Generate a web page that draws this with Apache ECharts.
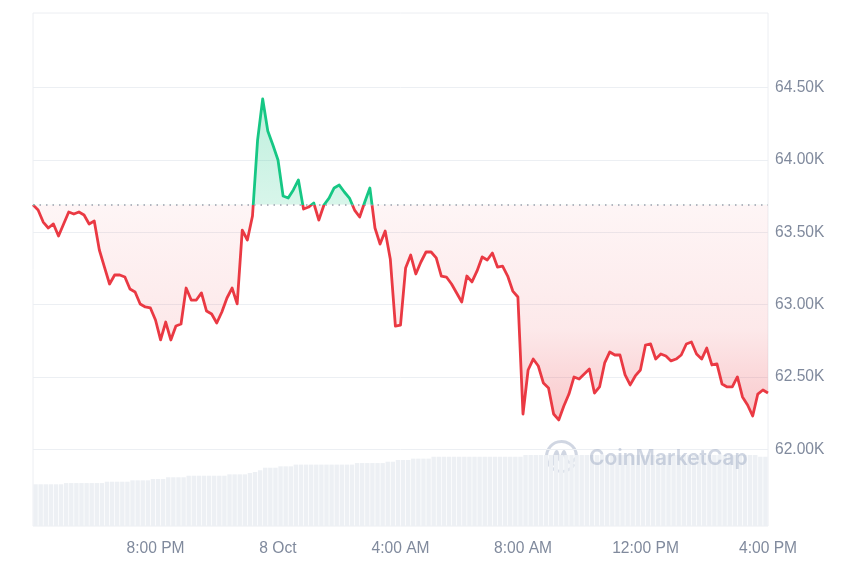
<!DOCTYPE html>
<html><head><meta charset="utf-8">
<script src="https://cdn.jsdelivr.net/npm/echarts@6/dist/echarts.min.js"></script>
<style>html,body{margin:0;padding:0;background:#fff}#c{width:860px;height:573px}</style>
</head><body><div id="c"></div>
<script>
// ---- data (10-minute samples, 7 Oct 4:00 PM -> 8 Oct 4:00 PM) ----
const prices = [
 63690,63654,63571,63530,63558,63475,63558,63641,63627,63641,
 63620,63558,63578,63378,63260,63143,63205,63205,63191,63108,
 63088,63005,62984,62977,62894,62756,62880,62756,62852,62866,
 63115,63032,63032,63081,62956,62935,62873,62949,63046,63115,
 63005,63516,63447,63613,64138,64422,64201,64104,64000,63751,
 63737,63793,63862,63661,63675,63703,63585,63689,63737,63807,
 63827,63779,63737,63654,63606,63710,63807,63530,63419,63509,
 63316,62852,62859,63253,63343,63212,63295,63364,63364,63323,
 63198,63191,63143,63081,63018,63198,63157,63233,63330,63309,
 63357,63260,63267,63198,63094,63053,62244,62548,62624,62576,
 62458,62424,62244,62203,62299,62382,62500,62486,62521,62555,
 62389,62431,62597,62673,62652,62652,62514,62445,62507,62548,
 62721,62728,62624,62659,62645,62611,62624,62652,62728,62742,
 62659,62624,62700,62583,62590,62451,62431,62431,62500,62362,
 62306,62230,62382,62410,62389
];
// 24h volume (billions USD), one bar per 10 minutes
const volumes = [
 24.4,24.4,24.4,24.4,24.4,24.4,
 25.1,25.1,25.1,25.1,25.1,25.1,25.1,25.1,
 25.9,25.9,25.9,25.9,25.9,
 26.7,26.7,26.7,26.7,
 27.5,27.5,27.5,
 28.5,28.5,28.5,28.5,
 29.4,29.4,29.4,29.4,29.4,29.4,29.4,29.4,
 30.2,30.2,30.2,30.2,
 31.0,31.6,32.6,
 34.1,34.1,34.1,
 34.9,34.9,34.9,
 35.9,35.9,35.9,35.9,35.9,35.9,35.9,35.9,35.9,35.9,35.9,35.9,
 36.8,36.8,36.8,36.8,36.8,36.8,
 37.6,37.6,
 38.6,38.6,38.6,
 39.4,39.4,39.4,39.4,
 40.5,40.5,40.5,40.5,40.5,40.5,40.5,40.5,40.5,40.5,40.5,40.5,40.5,40.5,40.5,40.5,40.5,40.5,
 41.5,41.5,41.5,41.5,41.5,41.5,41.5,41.5,41.5,41.5,41.5,41.5,41.5,41.5,41.5,41.5,
 41.5,41.5,41.5,41.5,41.5,41.5,41.5,41.5,41.5,41.5,41.5,41.5,41.5,41.5,41.5,41.5,
 41.5,41.5,41.5,41.5,41.5,41.5,41.5,41.5,41.5,41.5,41.5,41.5,41.5,41.5,
 40.5,40.5
];
const tickLabels = ['', '8:00 PM', '8 Oct', '4:00 AM', '8:00 AM', '12:00 PM', '4:00 PM'];
const stepHours = 1 / 6;
const spanHours = 24;
const yMin = 61500, yMax = 65000, yStep = 500;
const volMax = 300;

// ---- layout ----
const L = 33, R = 768, pTop = 15.4, pBot = 521.6;
const basePrice = prices[0];
const basePx = pTop + (yMax - basePrice) / (yMax - yMin) * (pBot - pTop);
const RED = '#ea3943', GREEN = '#16c784', GRAY = '#808a9d';
const WM = 'rgba(150,163,190,0.45)';
const FONT = 'Arial, Liberation Sans, sans-serif';

const lineData = prices.map((p, i) => [i * stepHours, p]);
const volData = volumes.map((v, i) => [(i + 0.5) * stepHours, v]);

const hiddenX = g => ({ gridIndex: g, type: 'value', min: 0, max: spanHours, show: false });

const chart = echarts.init(document.getElementById('c'), null, { renderer: 'canvas' });
chart.setOption({
  animation: false,
  backgroundColor: '#fff',
  grid: [
    { left: L, width: R - L, top: pTop, height: pBot - pTop },
    { left: L, width: R - L, top: pTop, height: basePx - pTop },
    { left: L, width: R - L, top: basePx, height: pBot - basePx },
    { left: L, width: R - L, top: 13, height: 513, show: true, borderColor: '#eceef2', borderWidth: 1, backgroundColor: 'transparent' }
  ],
  xAxis: [
    hiddenX(0), hiddenX(1), hiddenX(2),
    {
      gridIndex: 3, type: 'value', min: 0, max: spanHours, interval: 4,
      axisLine: { show: false }, axisTick: { show: false }, splitLine: { show: false },
      axisLabel: {
        margin: 15, color: GRAY, fontSize: 15.6, fontFamily: FONT,
        formatter: v => tickLabels[Math.round(v / 4)] || ''
      }
    }
  ],
  yAxis: [
    {
      gridIndex: 0, type: 'value', position: 'right', min: yMin, max: yMax, interval: yStep,
      axisLine: { show: false }, axisTick: { show: false },
      axisLabel: {
        margin: 7, color: GRAY, fontSize: 15.6, fontFamily: FONT,
        showMinLabel: false, showMaxLabel: false,
        formatter: v => (v <= yMin || v >= yMax) ? '' : (v / 1000).toFixed(2) + 'K'
      },
      splitLine: { show: true, showMinLine: false, showMaxLine: false, lineStyle: { color: '#eceff3', width: 1 } }
    },
    { gridIndex: 1, type: 'value', min: basePrice, max: yMax, show: false },
    { gridIndex: 2, type: 'value', min: yMin, max: basePrice, show: false },
    { gridIndex: 3, type: 'value', min: 0, max: volMax, show: false }
  ],
  visualMap: {
    show: false, type: 'piecewise', seriesIndex: 3, dimension: 1,
    pieces: [
      { gt: 50000, lte: basePrice, color: RED },
      { gt: basePrice, lte: 80000, color: GREEN }
    ],
    outOfRange: { color: RED }
  },
  series: [
    {
      name: 'volume', type: 'bar', xAxisIndex: 3, yAxisIndex: 3, data: volData,
      barWidth: 4.4, itemStyle: { color: '#edf0f4' }, silent: true, z: 1
    },
    {
      name: 'down-area', type: 'line', xAxisIndex: 2, yAxisIndex: 2, data: lineData,
      showSymbol: false, symbol: 'none', clip: true, z: 2,
      lineStyle: { width: 0.01, opacity: 0 },
      areaStyle: {
        origin: 'end',
        color: new echarts.graphic.LinearGradient(0, basePx, 0, 430, [
          { offset: 0, color: 'rgba(234,57,67,0.07)' },
          { offset: 0.55, color: 'rgba(234,57,67,0.16)' },
          { offset: 0.75, color: 'rgba(234,57,67,0.28)' },
          { offset: 1, color: 'rgba(234,57,67,0.42)' }
        ], true)
      }
    },
    {
      name: 'up-area', type: 'line', xAxisIndex: 1, yAxisIndex: 1, data: lineData,
      showSymbol: false, symbol: 'none', clip: true, z: 2,
      lineStyle: { width: 0.01, opacity: 0 },
      areaStyle: {
        origin: 'start',
        color: new echarts.graphic.LinearGradient(0, 95, 0, basePx, [
          { offset: 0, color: 'rgba(22,199,132,0.40)' },
          { offset: 1, color: 'rgba(22,199,132,0.24)' }
        ], true)
      }
    },
    {
      name: 'price', type: 'line', xAxisIndex: 0, yAxisIndex: 0, data: lineData,
      showSymbol: false, symbol: 'none', z: 4,
      lineStyle: { width: 2.8, join: 'round' },
      markLine: {
        silent: true, symbol: 'none', label: { show: false },
        lineStyle: { color: '#9aa0ad', width: 1.5, type: [1.5, 5] },
        data: [{ yAxis: basePrice }]
      }
    }
  ],
  graphic: [
    {
      type: 'group', x: 561.5, y: 456.5, z: 100, silent: true,
      children: [
        { type: 'arc', shape: { cx: 0, cy: 0, r: 15, startAngle: 0.55, endAngle: Math.PI * 2 - 0.05 },
          style: { stroke: WM, lineWidth: 3, fill: null } },
        { type: 'polyline', shape: { points: [[-9, 8], [-5, -5], [-1.5, 4], [2.5, -5], [5.5, 4], [9, 6], [14, 2]], smooth: 0.35 },
          style: { stroke: WM, lineWidth: 3, fill: null, lineCap: 'round' } }
      ]
    },
    {
      type: 'text', x: 589, y: 459, z: 100, silent: true,
      style: { text: 'CoinMarketCap', font: '600 21px Inter, sans-serif', fill: WM, verticalAlign: 'middle', textVerticalAlign: 'middle' }
    }
  ]
});
</script>
</body></html>
